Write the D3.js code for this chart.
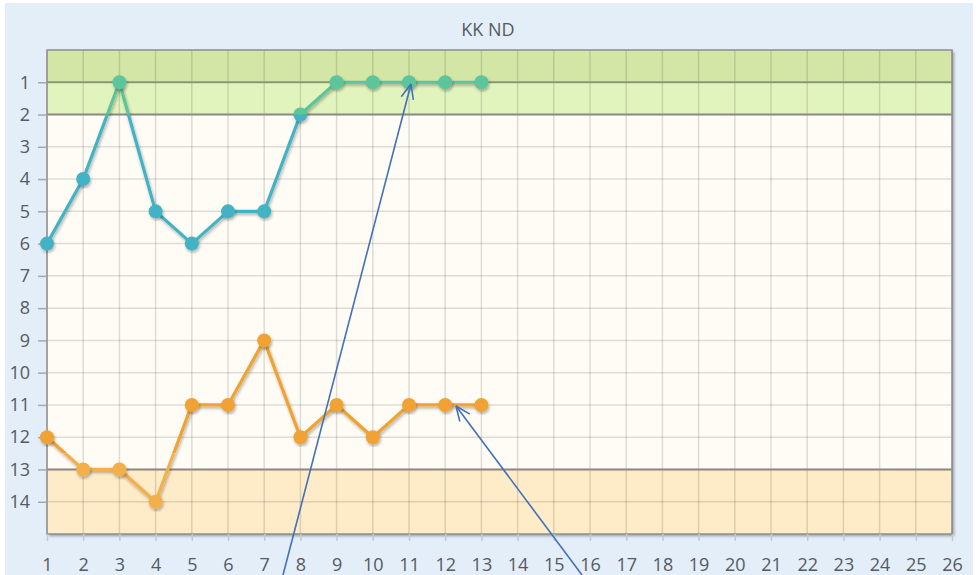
<!DOCTYPE html>
<html>
<head>
<meta charset="utf-8">
<script src="https://cdn.jsdelivr.net/npm/d3@7"></script>
<style>
  html, body { margin: 0; padding: 0; background: #ffffff; }
  svg { display: block; font-family: "Open Sans", "DejaVu Sans", sans-serif; }
</style>
</head>
<body>
<svg id="chart" width="978" height="575"></svg>
<script>
// chart data
var chartTitle = "KK ND";
var rounds = [1, 2, 3, 4, 5, 6, 7, 8, 9, 10, 11, 12, 13];
var topTeam = [6, 4, 1, 5, 6, 5, 5, 2, 1, 1, 1, 1, 1];
var bottomTeam = [12, 13, 13, 14, 11, 11, 9, 12, 11, 12, 11, 11, 11];
var xTicks = d3.range(1, 27);
var yTicks = d3.range(1, 15);
var bands = [
  {from: 0, to: 2, color: "#e2f4be"},
  {from: 0, to: 1, color: "#d4e6a6"},
  {from: 13, to: 15, color: "#feebc8"}
];
var plotLines = [
  {value: 1, color: "#8a9a74"},
  {value: 2, color: "#8c8c86"},
  {value: 13, color: "#8e8a80"}
];
// annotation arrows: [x1, y1] -> tip [x2, y2] (page pixels)
var arrows = [
  {from: [283, 575], to: [411, 84]},
  {from: [582, 575], to: [456, 406]}
];

var svg = d3.select("#chart");
var margin = {left: 47, top: 50, right: 952, bottom: 534};

var x = d3.scaleLinear().domain([1, 26]).range([margin.left, margin.right]);
var y = d3.scaleLinear().domain([0, 15]).range([margin.top, margin.bottom]);

var defs = svg.append("defs");
var sh = defs.append("filter").attr("id", "shadow")
  .attr("x", "-10%").attr("y", "-10%").attr("width", "130%").attr("height", "130%");
sh.append("feDropShadow").attr("dx", 1).attr("dy", 2).attr("stdDeviation", 1.6)
  .attr("flood-color", "#000").attr("flood-opacity", 0.3);
var bsh = defs.append("filter").attr("id", "boxshadow")
  .attr("x", "-5%").attr("y", "-5%").attr("width", "110%").attr("height", "110%");
bsh.append("feDropShadow").attr("dx", 2).attr("dy", 2).attr("stdDeviation", 1.5)
  .attr("flood-color", "#000").attr("flood-opacity", 0.35);

defs.append("clipPath").attr("id", "clipTop")
  .append("rect").attr("x", 0).attr("y", 0).attr("width", 978).attr("height", y(2));
defs.append("clipPath").attr("id", "clipMid")
  .append("rect").attr("x", 0).attr("y", y(2)).attr("width", 978).attr("height", 575);
defs.append("clipPath").attr("id", "clipUpper")
  .append("rect").attr("x", 0).attr("y", 0).attr("width", 978).attr("height", y(12.5));
defs.append("clipPath").attr("id", "clipLower")
  .append("rect").attr("x", 0).attr("y", y(12.5)).attr("width", 978).attr("height", 575);

// outer background
svg.append("rect").attr("x", 5).attr("y", 3).attr("width", 968).attr("height", 580)
  .attr("fill", "#e4eef9");

// plot area with shadow
svg.append("rect")
  .attr("x", margin.left).attr("y", margin.top)
  .attr("width", margin.right - margin.left).attr("height", margin.bottom - margin.top)
  .attr("fill", "#fffcf5").attr("filter", "url(#boxshadow)");

svg.append("g").selectAll("rect").data(bands).join("rect")
  .attr("x", margin.left).attr("width", margin.right - margin.left)
  .attr("y", d => y(d.from)).attr("height", d => y(d.to) - y(d.from))
  .attr("fill", d => d.color);

// grid
var grid = svg.append("g").attr("stroke", "#0f0a00").attr("stroke-opacity", 0.13).attr("stroke-width", 1.5);
grid.selectAll("line.v").data(xTicks).join("line").attr("class", "v")
  .attr("x1", d => x(d)).attr("x2", d => x(d))
  .attr("y1", margin.top).attr("y2", margin.bottom);
grid.selectAll("line.h").data(yTicks).join("line").attr("class", "h")
  .attr("y1", d => y(d)).attr("y2", d => y(d))
  .attr("x1", margin.left).attr("x2", margin.right);

svg.append("g").selectAll("line").data(plotLines).join("line")
  .attr("x1", margin.left).attr("x2", margin.right)
  .attr("y1", d => y(d.value)).attr("y2", d => y(d.value))
  .attr("stroke", d => d.color).attr("stroke-width", 2);

// border
svg.append("rect")
  .attr("x", margin.left).attr("y", margin.top)
  .attr("width", margin.right - margin.left).attr("height", margin.bottom - margin.top)
  .attr("fill", "none").attr("stroke", "#8f8f8f").attr("stroke-width", 1.5);

// axes
var xAxis = d3.axisBottom(x).tickValues(xTicks).tickSize(7).tickPadding(17).tickFormat(d3.format("d"));
var gx = svg.append("g").attr("transform", "translate(0," + margin.bottom + ")").call(xAxis);
gx.select(".domain").remove();
gx.selectAll(".tick line").attr("stroke", "#c4c8cc").attr("stroke-width", 1.5);
gx.selectAll(".tick text").attr("fill", "#555a60").style("font-size", "18px")
  .style("font-family", "'Open Sans', sans-serif");

var yAxis = d3.axisLeft(y).tickValues(yTicks).tickSize(9).tickPadding(8).tickFormat(d3.format("d"));
var gy = svg.append("g").attr("transform", "translate(" + margin.left + ",0)").call(yAxis);
gy.select(".domain").remove();
gy.selectAll(".tick line").attr("stroke", "#a4a8ac").attr("stroke-width", 1.5);
gy.selectAll(".tick text").attr("fill", "#555a60").style("font-size", "18px")
  .style("font-family", "'Open Sans', sans-serif");

// title
svg.append("text").attr("x", 488).attr("y", 36).attr("text-anchor", "middle")
  .attr("fill", "#555a60").style("font-size", "18px").text(chartTitle);

// series
function drawSeries(values, clipId, color) {
  var pts = rounds.map((r, i) => [r, values[i]]);
  var g = svg.append("g").attr("clip-path", "url(#" + clipId + ")");
  var line = d3.line().x(d => x(d[0])).y(d => y(d[1]));
  g.append("path").datum(pts).attr("d", line)
    .attr("fill", "none").attr("stroke", color).attr("stroke-width", 3.2)
    .attr("stroke-linejoin", "round").attr("filter", "url(#shadow)");
  g.selectAll("circle").data(pts).join("circle")
    .attr("cx", d => x(d[0])).attr("cy", d => y(d[1])).attr("r", 7)
    .attr("fill", color).attr("filter", "url(#shadow)");
}
drawSeries(topTeam, "clipMid", "#43b3c5");
drawSeries(topTeam, "clipTop", "#5cc59b");
drawSeries(bottomTeam, "clipUpper", "#f0a330");
drawSeries(bottomTeam, "clipLower", "#f3af4a");

// annotation arrows
var ag = svg.append("g").attr("stroke", "#4271b8").attr("stroke-width", 1.6).attr("fill", "none");
arrows.forEach(function (a) {
  ag.append("line").attr("x1", a.from[0]).attr("y1", a.from[1])
    .attr("x2", a.to[0]).attr("y2", a.to[1]);
  var ang = Math.atan2(a.from[1] - a.to[1], a.from[0] - a.to[0]);
  var len = 16, spread = 0.4;
  [ang - spread, ang + spread].forEach(function (t) {
    ag.append("line").attr("x1", a.to[0]).attr("y1", a.to[1])
      .attr("x2", a.to[0] + len * Math.cos(t)).attr("y2", a.to[1] + len * Math.sin(t));
  });
});
</script>
</body>
</html>
